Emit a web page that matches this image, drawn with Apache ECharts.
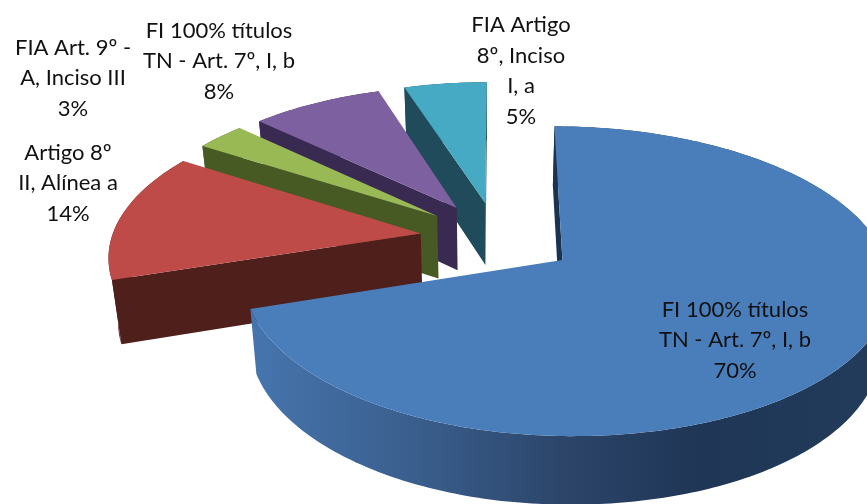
<!DOCTYPE html>
<html><head><meta charset="utf-8">
<style>html,body{margin:0;padding:0;background:#fff;overflow:hidden}#c{width:867px;height:504px}</style>
<script src="https://cdn.jsdelivr.net/npm/echarts@6/dist/echarts.min.js"></script>
</head><body><div id="c"></div>
<script>
// ---- data (clockwise from 12 o'clock) ----
const categories = [
  'FI 100% títulos\nTN - Art. 7º, I, b',
  'Artigo 8º\nII, Alínea a',
  'FIA Art. 9º -\nA, Inciso III',
  'FI 100% títulos\nTN - Art. 7º, I, b',
  'FIA Artigo\n8º, Inciso\nI, a'
];
const values = [70, 14, 3, 8, 5];
// ---- styles / layout ----
const topColors = ['#4A7EBB', '#BE4B48', '#98B954', '#7D60A0', '#46AAC5'];
const sideColors = ['#1C3350', '#4F1F1B', '#475A23', '#392A52', '#1F4B5A'];
const labelX = [735, 68, 73, 219, 521];
const labelY = [340, 183, 78, 61, 71];
const CX = 497, CY = 238, A = 317, LEFT_SQUEEZE = 0.975, B = 146, P = 0.135, DEPTH = 63, EXPLODE = 0.25;
const VANISH = 490, TAPER = 0.975;

const total = values.reduce((a, b) => a + b, 0);
const starts = [];
values.reduce((acc, v, i) => { starts[i] = acc; return acc + v; }, 0);

function proj(u, v) {
  const s = 1 / (1 + P * v);
  return [CX + A * (u < 0 ? LEFT_SQUEEZE : 1) * u * s, CY - B * v * s, s];
}
function lower(p) {
  return [VANISH + (p[0] - VANISH) * TAPER, p[1] + DEPTH * Math.sqrt(p[2]), p[2]];
}
function xy(p) { return [p[0], p[1]]; }
function cross(a, b, c) {
  return (b[0] - a[0]) * (c[1] - a[1]) - (b[1] - a[1]) * (c[0] - a[0]);
}

function renderSlice(params, api) {
  const i = params.dataIndex;
  const value = api.value(0);
  const a0 = starts[i] / total * 2 * Math.PI;
  const a1 = (starts[i] + value) / total * 2 * Math.PI;
  const m = (a0 + a1) / 2;
  const ou = EXPLODE * Math.sin(m), ov = EXPLODE * Math.cos(m);
  const apex = proj(ou, ov);
  const n = Math.max(8, Math.round((a1 - a0) * 60));
  const arc = [];
  for (let k = 0; k <= n; k++) {
    const t = a0 + (a1 - a0) * k / n;
    arc.push(proj(ou + Math.sin(t), ov + Math.cos(t)));
  }
  const arcLow = arc.map(lower);
  const apexLow = lower(apex);
  const base = (values.length - i) * 10;
  const children = [];
  // outer rim
  const rimFill = i === 0
    ? new echarts.graphic.LinearGradient(0, 0, 1, 0, [
        { offset: 0, color: '#4675AE' },
        { offset: 0.25, color: '#3A5F8E' },
        { offset: 0.5, color: '#2B4468' },
        { offset: 0.7, color: '#1F3656' },
        { offset: 1, color: '#233C5C' }
      ])
    : sideColors[i];
  children.push({
    type: 'polygon', z2: base,
    shape: { points: arc.map(xy).concat(arcLow.slice().reverse().map(xy)) },
    style: { fill: rimFill }
  });
  // cut faces (only the ones turned to the viewer)
  [[apex, arc[0], arcLow[0], apexLow], [arc[n], apex, apexLow, arcLow[n]]].forEach(q => {
    if (cross(q[0], q[1], q[2]) < 0) {
      children.push({
        type: 'polygon', z2: base + 1,
        shape: { points: q.map(xy) },
        style: { fill: sideColors[i] }
      });
    }
  });
  // top face
  children.push({
    type: 'polygon', z2: base + 2,
    shape: { points: [xy(apex)].concat(arc.map(xy)) },
    style: { fill: topColors[i] }
  });
  // label
  children.push({
    type: 'text', z2: 100,
    style: {
      text: categories[i] + '\n' + Math.round(value / total * 100) + '%',
      x: labelX[i], y: labelY[i], align: 'center', verticalAlign: 'middle',
      font: '22px Lato', lineHeight: 30.5, fill: '#111'
    }
  });
  return { type: 'group', children };
}

const chart = echarts.init(document.getElementById('c'), null, { renderer: 'canvas' });
chart.setOption({
  animation: false,
  backgroundColor: '#fff',
  series: [{
    type: 'custom',
    coordinateSystem: 'none',
    renderItem: renderSlice,
    data: values.map(v => [v]),
    clip: false,
    silent: true
  }]
});
</script></body></html>
